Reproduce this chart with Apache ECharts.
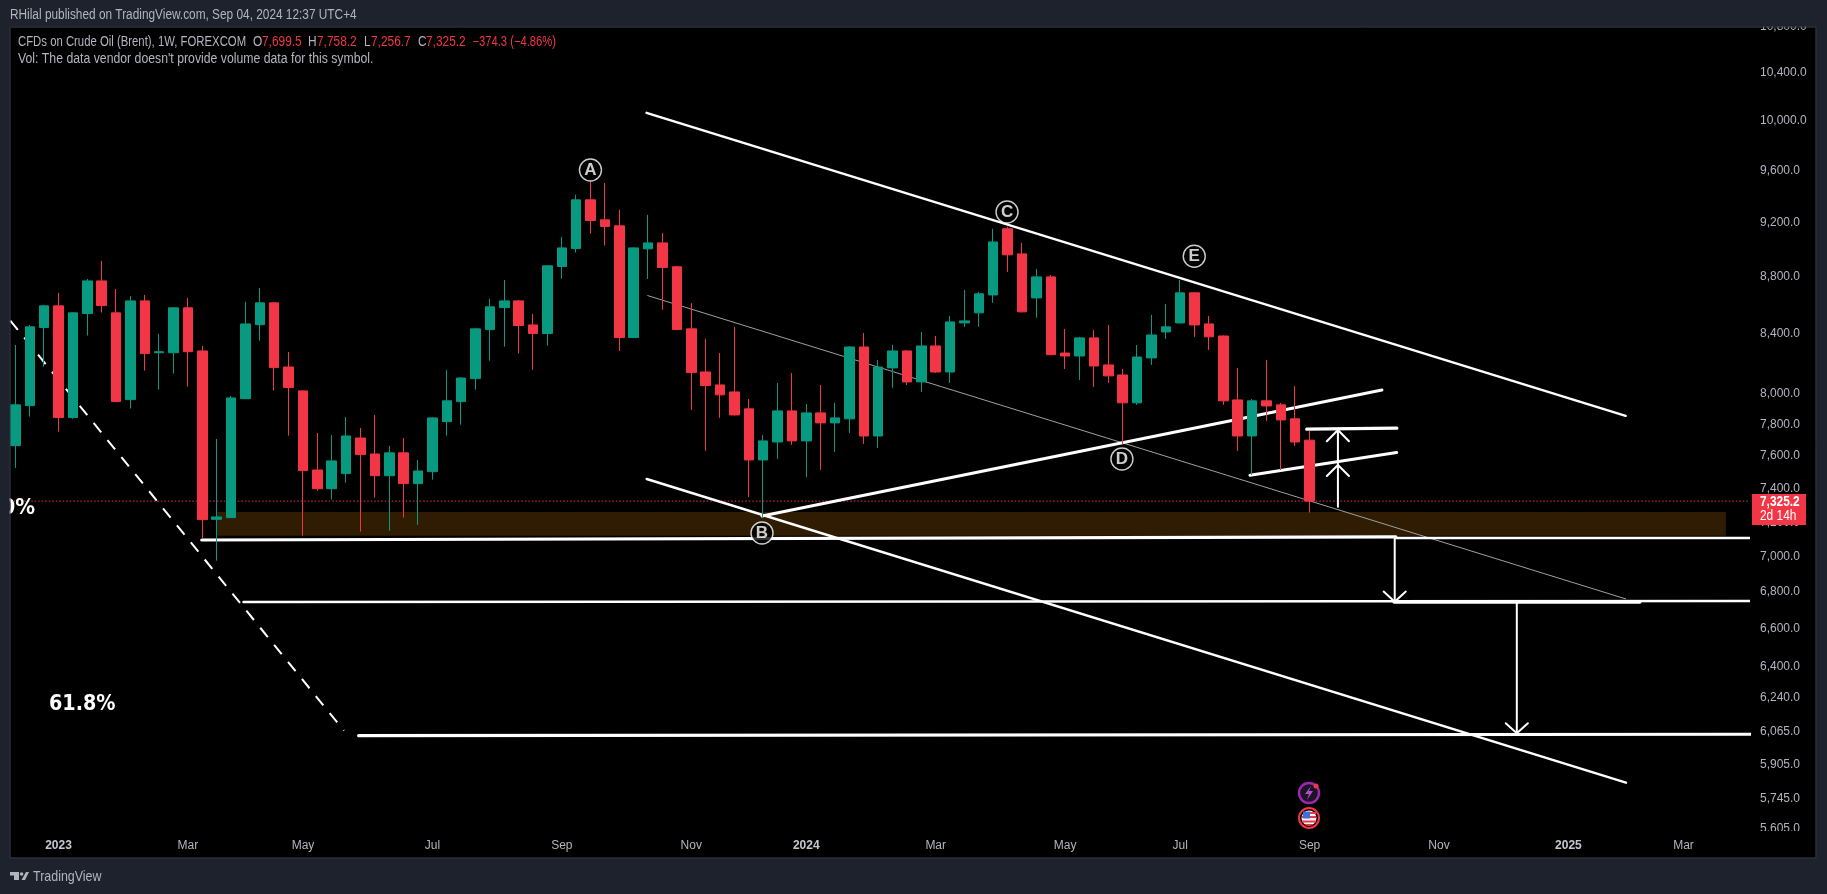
<!DOCTYPE html>
<html><head><meta charset="utf-8">
<style>html,body{margin:0;padding:0;background:#1e222d}#c{width:1827px;height:894px}</style>
<script src="https://cdn.jsdelivr.net/npm/echarts@6/dist/echarts.min.js"></script>
</head><body><div id="c"></div>
<script>
// ---- candle values (weekly, first bar = 12 Dec 2022) ----
const opens=[7665,7920,8442,8593,7843,8539,8770,8544,7959,8628,8270,8270,8579,8282,7217,7227,7965,8462,8614,8174,8016,7514,7400,7492,7713,7613,7479,7620,7431,7504,7817,7946,8097,8428,8581,8628,8460,8401,8874,9005,9371,9219,9174,8373,9003,9047,8872,8433,8141,8055,8009,7899,7576,7688,7886,7695,7873,7809,7835,8309,7726,8168,8282,8075,8316,8141,8474,8544,8670,9152,8966,8649,8799,8268,8248,8371,8188,8121,7938,8235,8412,8474,8685,8467,8384,7957,7726,7951,7925,7835,7699.5];
const closes=[7925,8447,8593,7843,8544,8770,8595,7946,8628,8264,8277,8579,8277,7215,7231,7970,8467,8614,8170,8038,7510,7400,7570,7726,7609,7479,7620,7431,7508,7841,7951,8101,8433,8586,8628,8456,8401,8879,9010,9371,9214,9169,8373,9010,9047,8867,8428,8137,8051,7990,7860,7576,7695,7886,7695,7873,7809,7841,8309,7726,8174,8282,8075,8316,8141,8481,8488,8678,9054,8959,8551,8799,8257,8248,8371,8181,8115,7938,8241,8391,8447,8685,8460,8378,7951,7726,7951,7918,7828,7688,7325.2];
const lows=[7527,7849,8176,7754,7835,8387,8546,7942,7901,8150,8024,8130,8044,7106,6977,7225,7963,8352,8018,7728,7121,7388,7334,7437,7145,7346,7150,7227,7185,7455,7728,7798,8024,8216,8311,8264,8155,8318,8786,8976,9116,9027,8282,8370,8784,8565,8425,7892,7632,7841,7857,7350,7229,7582,7670,7471,7514,7626,7745,7676,7651,8036,8055,8009,8134,8068,8447,8447,8614,8835,8548,8509,8254,8161,8088,8042,8068,7676,7925,8188,8364,8470,8378,8289,7925,7632,7484,7822,7514,7663,7256.7];
const highs=[8323,8460,8600,8685,8548,8784,8915,8713,8663,8670,8398,8582,8649,8316,7707,7983,8621,8720,8618,8275,8018,7745,7732,7847,7777,7860,7663,7713,7576,7845,8155,8105,8440,8642,8777,8635,8537,8885,9091,9410,9512,9502,9295,9015,9257,9121,8877,8612,8364,8268,8447,7963,7732,8068,8134,7931,8055,7938,8314,8405,8221,8323,8286,8412,8384,8523,8706,8692,9152,9167,9047,8857,8813,8433,8378,8426,8460,8161,8323,8530,8607,8777,8690,8523,8388,8168,7963,8221,7938,8048,7758.2];

// ---- axis ----
const barCount=121;
const firstWeek=Date.UTC(2022,11,12);
const categories=Array.from({length:barCount},(_,k)=>new Date(firstWeek+k*7*864e5).toISOString().slice(0,10));
const timeTickIndex=[3,12,20,29,38,47,55,64,73,81,90,99,108,116];
const timeTickLabels=['2023','Mar','May','Jul','Sep','Nov','2024','Mar','May','Jul','Sep','Nov','2025','Mar'];
const priceTicks=[5605,5745,5905,6065,6240,6400,6600,6800,7000,7200,7400,7600,7800,8000,8400,8800,9200,9600,10000,10400,10800];
const priceMin=5593.7, priceMax=10810, lastPrice=7325.2;

// ---- drawings, as [bar index, price] ----
const channelTop=[[43.89,10062],[111.98,7854]];
const channelMid=[[43.95,8666],[112,6762]];
const channelLow=[[43.9,7459],[112,5819]];
const risingLine=[[51.92,7237],[95.03,8022]];
const supportA=[[12.96,7096],[96,7114]];
const supportA2=[[96,7108],[120.7,7108]];
const supportB=[[15.86,6745],[120.7,6751]];
const supportB2=[[95.87,6745],[112.97,6745]];
const supportC=[[23.87,6047],[120.7,6054]];
const shortTop=[[89.8,7769],[96.07,7775]];
const shortMid=[[85.86,7482],[96.05,7622]];
const fibDashed=[[-0.355,8490],[22.85,6072]];
const priceLine=[[-0.6,lastPrice],[120.75,lastPrice]];
const arrowUp=[[91.97,7292],[91.97,7764]];
const headUp1=[[91.2,7693],[91.97,7764],[92.74,7693]];
const headUp2=[[91.2,7477],[91.97,7545],[92.74,7477]];
const arrowDown1=[[95.92,7108],[95.92,6747]];
const headDown1=[[95.15,6803],[95.92,6747],[96.69,6803]];
const arrowDown2=[[104.41,6745],[104.41,6059]];
const headDown2=[[103.64,6109],[104.41,6059],[105.18,6109]];
const zoneBox=[[13.95,7261],[118.95,7121]];
const waveNames=['A','B','C','D','E'];
const wavePoints=[[39.99,9603],[51.92,7137],[68.96,9278],[76.95,7582],[81.98,8949]];

// ---- styling ----
const UP='#089981', DOWN='#f23645', TXT='#b2b5be', PANEL='#1e222d', FONT='"Liberation Sans",sans-serif';
const bw=14.38, gridLeft=8.2;
function ln(name,data,width,extra){
  return Object.assign({type:'line',name,data,xAxisIndex:1,yAxisIndex:0,showSymbol:false,symbol:'none',silent:true,animation:false,clip:false,z:3,
    lineStyle:{color:'#fff',width,cap:'round'}},extra||{});
}
const series=[
 {type:'candlestick',name:'Brent',xAxisIndex:0,yAxisIndex:0,z:6,barWidth:10,silent:true,animation:false,
  data:opens.map((o,k)=>[o,closes[k],lows[k],highs[k]]),
  itemStyle:{color:UP,color0:DOWN,borderColor:UP,borderColor0:DOWN,borderWidth:1}},
 ln('zone',[],1,{data:[zoneBox[0]],z:1,markArea:{silent:true,z:1,itemStyle:{color:'#2f1c03',opacity:1},data:[[{coord:zoneBox[0]},{coord:zoneBox[1]}]]}}),
 ln('price',priceLine,1,{z:2,clip:true,lineStyle:{color:DOWN,width:1,type:[1.5,2]}}),
 ln('fib',fibDashed,2,{clip:true,lineStyle:{color:'#fff',width:2,type:[12,10],cap:'butt'}}),
 ln('mid',channelMid,1,{lineStyle:{color:'#a0a0a0',width:1}}),
 ln('top',channelTop,2.4),ln('low',channelLow,2.4),
 ln('rising',risingLine,3),
 ln('a',supportA,3.2),ln('a2',supportA2,2.6),
 ln('b',supportB,2.4),ln('b2',supportB2,3.2),
 ln('c',supportC,3.2),
 ln('st',shortTop,3.2),ln('sm',shortMid,3.2),
 ln('u',arrowUp,2),ln('u1',headUp1,2),ln('u2',headUp2,2),
 ln('d1',arrowDown1,2),ln('d1h',headDown1,2),
 ln('d2',arrowDown2,2),ln('d2h',headDown2,2),
 {type:'scatter',name:'waves',xAxisIndex:1,yAxisIndex:0,z:8,silent:true,animation:false,symbolSize:22,
  data:wavePoints.map((p,k)=>({value:p,name:waveNames[k]})),
  itemStyle:{color:'#000',borderColor:'#fff',borderWidth:1.4},
  label:{show:true,position:'inside',formatter:p=>p.name,color:'#fff',fontSize:17,fontWeight:'bold',fontFamily:FONT}}
];

function T(x,y,text,opt){opt=opt||{};return {type:'text',x,y,scaleX:opt.k||0.85,z:opt.z||120,silent:true,style:{text,fill:opt.fill||TXT,font:(opt.w||'normal')+' '+(opt.s||14)+'px '+(opt.f||FONT),textVerticalAlign:'middle',textAlign:opt.a||'left'}};}
const graphic=[
 {type:'rect',z:-10,silent:true,shape:{x:10,y:27,width:1806,height:831},style:{fill:'#000',stroke:'#2a2e39',lineWidth:1}},
 T(35,508,'50%',{fill:'#fff',w:'bold',s:22,a:'right',z:7,k:1,f:'"DejaVu Sans Condensed","DejaVu Sans",sans-serif'}),
 T(49,704,'61.8%',{fill:'#fff',w:'bold',s:22,z:7,k:0.97,f:'"DejaVu Sans Condensed","DejaVu Sans",sans-serif'}),
 {type:'rect',z:100,silent:true,shape:{x:0,y:0,width:1827,height:26.5},style:{fill:PANEL}},
 {type:'rect',z:100,silent:true,shape:{x:0,y:0,width:9.5,height:894},style:{fill:PANEL}},
 {type:'rect',z:100,silent:true,shape:{x:1752,y:831,width:63,height:26},style:{fill:'#000'}},
 {type:'rect',z:101,silent:true,shape:{x:10,y:27,width:1806,height:831},style:{fill:'none',stroke:'#2a2e39',lineWidth:1}},
 T(10,15,'RHilal published on TradingView.com, Sep 04, 2024 12:37 UTC+4',{k:0.846}),
 T(18,42,'CFDs on Crude Oil (Brent), 1W, FOREXCOM',{k:0.81}),
 T(253,42,'O'),T(262,42,'7,699.5',{fill:DOWN}),
 T(308,42,'H'),T(317,42,'7,758.2',{fill:DOWN}),
 T(364,42,'L'),T(371,42,'7,256.7',{fill:DOWN}),
 T(418,42,'C'),T(426,42,'7,325.2',{fill:DOWN}),
 T(472.5,42,'\u2212374.3 (\u22124.86%)',{fill:DOWN,k:0.8}),
 T(18,59,"Vol: The data vendor doesn't provide volume data for this symbol.",{k:0.876}),
 // last price tag
 {type:'rect',z:110,silent:true,shape:{x:1752,y:494,width:54,height:31},style:{fill:DOWN}},
 T(1760,502,'7,325.2',{fill:'#fff',w:'bold'}),
 T(1760,516,'2d 14h',{fill:'#fff'}),
 // event icons
 {type:'circle',z:9,silent:true,shape:{cx:1309,cy:793,r:10},style:{fill:'#1b1426',stroke:'#9c27b0',lineWidth:2.4}},
 {type:'polygon',z:10,silent:true,shape:{points:[[1311,786],[1305,794],[1309,794],[1307,800],[1313,791],[1309,791]]},style:{fill:'#b04fc6'}},
 {type:'circle',z:10,silent:true,shape:{cx:1316,cy:786,r:2.5},style:{fill:DOWN}},
 {type:'circle',z:9,silent:true,shape:{cx:1309,cy:818,r:10},style:{fill:'#000',stroke:DOWN,lineWidth:2}},
 {type:'circle',z:10,silent:true,shape:{cx:1309,cy:818,r:7.5},style:{fill:'#f4f4f4'}},
 {type:'rect',z:11,silent:true,shape:{x:1303,y:812,width:13,height:2},style:{fill:DOWN}},
 {type:'rect',z:11,silent:true,shape:{x:1302,y:816,width:14,height:2},style:{fill:DOWN}},
 {type:'rect',z:11,silent:true,shape:{x:1302,y:820.5,width:14,height:2},style:{fill:DOWN}},
 {type:'rect',z:11,silent:true,shape:{x:1305,y:824,width:8,height:1.4},style:{fill:DOWN}},
 {type:'rect',z:12,silent:true,shape:{x:1303,y:811.5,width:7,height:7},style:{fill:'#3f6fd8'}},
 // brand
 {type:'rect',z:120,silent:true,shape:{x:10,y:872,width:9,height:3.5},style:{fill:TXT}},
 {type:'rect',z:120,silent:true,shape:{x:14,y:875,width:5,height:5},style:{fill:TXT}},
 {type:'circle',z:120,silent:true,shape:{cx:21.6,cy:874,r:1.8},style:{fill:TXT}},
 {type:'polygon',z:120,silent:true,shape:{points:[[26,872],[29,872],[25,880],[21.5,880]]},style:{fill:TXT}},
 T(33,877,'TradingView',{s:15,k:0.83})
];

const chart=echarts.init(document.getElementById('c'),null,{renderer:'canvas'});
chart.setOption({
 animation:false,backgroundColor:PANEL,
 grid:{left:gridLeft,top:25.1,width:bw*barCount,height:831-25.1,containLabel:false},
 graphic:{elements:graphic},
 xAxis:[
  {type:'category',data:categories,boundaryGap:true,axisLine:{show:false},axisTick:{show:false},splitLine:{show:false},
   axisLabel:{interval:0,margin:8,hideOverlap:false,fontFamily:FONT,fontSize:12,lineHeight:14,
     formatter:(v,i)=>{const k=timeTickIndex.indexOf(i);if(k<0)return '';const t=timeTickLabels[k];return /^\d/.test(t)?'{y|'+t+'}':'{m|'+t+'}';},
     rich:{y:{color:'#c4c7cf',fontWeight:'bold',fontFamily:FONT,fontSize:12},m:{color:TXT,fontFamily:FONT,fontSize:12}}}},
  {type:'value',min:-0.5,max:barCount-0.5,show:false,splitLine:{show:false}}
 ],
 yAxis:[{type:'log',logBase:10,min:priceMin,max:priceMax,position:'right',axisLine:{show:false},axisTick:{show:false},splitLine:{show:false},minorTick:{show:false},
   axisLabel:{customValues:priceTicks,color:TXT,fontFamily:FONT,fontSize:12,margin:11.8,align:'left',hideOverlap:false,showMinLabel:true,showMaxLabel:true,
     formatter:v=>Math.round(v).toLocaleString('en-US')+'.0'}}],
 series
});
</script></body></html>
